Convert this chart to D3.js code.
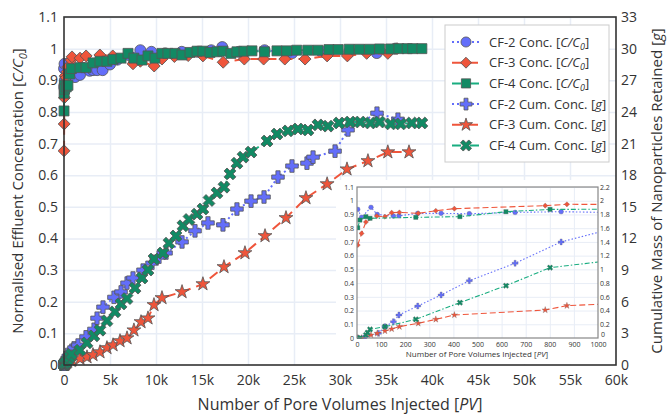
<!DOCTYPE html>
<html>
<head>
<meta charset="utf-8">
<script src="https://cdn.jsdelivr.net/npm/d3@7"></script>
<style>
  body { margin: 0; background: #fff; }
  text { font-family: "Open Sans", "DejaVu Sans", sans-serif; fill: #333; }
</style>
</head>
<body>
<div id="chart"></div>
<script>
// [pore volumes, C/C0]
const cf2Conc = [[3,0.937],[19,0.879],[58,0.952],[84,0.9],[151,0.888],[174,0.89],[252,0.908],[349,0.908],[466,0.905],[656,0.915],[847,0.92],
  [1200,0.91],[1740,0.917],[2800,0.93],[3150,0.932],[3600,0.932],[4200,0.932],[5000,0.95],[5800,0.965],[7000,0.98],[8300,0.995],[9500,0.99],[11000,0.985],[12800,0.99],[14500,0.99],[16000,0.995],[17200,1.005],[19000,0.99],[21800,0.995],[24800,0.986],[28000,0.99],[31000,0.99],[34000,0.986],[36000,1.0]];
const cf3Conc = [[3,0.677],[19,0.762],[37,0.845],[82,0.888],[116,0.884],[144,0.913],[176,0.915],[254,0.908],[327,0.927],[404,0.942],[781,0.964],[871,0.974],
  [1740,0.97],[2400,0.977],[3900,0.98],[5300,0.977],[7500,0.952],[8300,0.96],[9800,0.945],[10650,0.967],[12000,0.975],[13500,0.978],[15100,0.977],[17300,0.957],[19600,0.967],[21700,0.967],[24000,0.967],[26200,0.967],[28600,0.977],[30800,0.977],[32900,0.985],[35200,0.985],[36200,1.0]];
const cf4Conc = [[3,0.803],[12,0.859],[37,0.884],[54,0.872],[244,0.879],[427,0.884],[618,0.92],[801,0.937],
  [1740,0.94],[2390,0.94],[3150,0.955],[3910,0.96],[4670,0.96],[5330,0.966],[6200,0.97],[6960,0.985],[7600,0.97],[8480,0.964],[9130,0.977],[9890,0.97],[10650,0.985],[11300,0.985],[12070,0.985],[12830,0.98],[13700,0.988],[14460,0.992],[15100,0.992],[15870,0.988],[16630,0.99],[17280,0.992],[18150,0.985],[18800,0.99],[19570,0.992],[20430,0.993],[21800,0.99],[23150,0.993],[24200,0.993],[25300,0.995],[26500,0.995],[27600,0.995],[28800,0.997],[29800,0.997],[31000,0.998],[32100,0.998],[33200,0.998],[34300,0.999],[35500,0.999],[36400,1.0],[37300,1.0],[37900,1.0],[38900,1.0]];

// [pore volumes, grams retained]
const cf2Cum = [[3,0],[28,0],[89,0.068],[116,0.165],[151,0.238],[174,0.335],[252,0.466],[349,0.627],[466,0.835],[656,1.089],[847,1.4],
  [1090,1.62],[1520,1.89],[2390,2.67],[3260,3.39],[3590,4.44],[4240,5.49],[5430,6.42],[6200,6.93],[6850,7.77],[7500,8.25],[8590,9.0],[9570,9.66],[10330,10.23],[11090,10.62],[12830,11.67],[14240,12.72],[15650,13.47],[17280,13.29],[18800,14.79],[20330,15.54],[21740,15.93],[23260,17.82],[24780,18.87],[26410,19.14],[27070,19.71],[29460,20.28],[30870,22.29],[34020,23.88],[36300,23.31]];
const cf3Cum = [[3,0],[19,0],[58,0.044],[84,0.068],[116,0.102],[144,0.131],[176,0.165],[254,0.214],[327,0.272],[404,0.335],[781,0.408],[871,0.471],
  [1740,0.6],[2500,0.75],[3150,0.96],[3910,1.23],[4670,1.62],[5330,1.89],[6090,2.28],[6850,2.55],[7600,3.3],[8370,4.08],[9130,4.44],[9780,5.7],[10650,6.36],[12830,6.93],[15100,7.68],[17390,9.3],[19670,10.62],[21850,12.24],[24130,13.95],[26300,15.84],[28600,17.16],[30760,18.57],[33040,19.35],[35200,20.19],[37500,20.19]];
const cf4Cum = [[3,0],[12,0],[37,0.044],[44,0.078],[54,0.126],[116,0.165],[244,0.272],[427,0.515],[618,0.762],[801,1.025],
  [1740,1.41],[2500,2.1],[3260,2.76],[3910,3.3],[4670,4.2],[5540,5.04],[6200,5.79],[6850,6.3],[7720,7.29],[8480,8.25],[9130,9.0],[9780,10.05],[10760,10.62],[11410,11.55],[12170,12.24],[12930,13.2],[13590,13.8],[14460,14.31],[15100,14.79],[15760,15.6],[16630,16.32],[17390,16.86],[18040,18.12],[18800,19.14],[19460,19.71],[20330,20.19],[22070,21.24],[23150,21.9],[24350,22.2],[25430,22.38],[26520,22.29],[27600,22.77],[28700,22.65],[29900,22.95],[31100,23.04],[32200,23.04],[33300,22.95],[34300,23.04],[35500,22.86],[36600,22.86],[37800,22.95],[38900,22.95]];

const xTicks = d3.range(0, 60001, 5000);
const yLeftTicks = d3.range(0, 12).map(i => i / 10);
const yRightTicks = d3.range(0, 34, 3);
const insetXTicks = d3.range(0, 1001, 100);
const insetRightTicks = d3.range(0, 12).map(i => i / 5);

const series = [
  { name: 'CF-2 Conc. ', unit: 'C/C', sub: '0', data: cf2Conc, axis: 'L', color: '#636efa', fill: '#636efa', symbol: 'circle', dash: '2,3', idash: '1.5,2' },
  { name: 'CF-3 Conc. ', unit: 'C/C', sub: '0', data: cf3Conc, axis: 'L', color: '#ef553b', fill: '#ef553b', symbol: 'diamond', dash: '10,6', idash: '6,3' },
  { name: 'CF-4 Conc. ', unit: 'C/C', sub: '0', data: cf4Conc, axis: 'L', color: '#19ad80', fill: '#128a64', symbol: 'square', dash: '9,3,3,3', idash: '5,2,1.5,2' },
  { name: 'CF-2 Cum. Conc. ', unit: 'g', sub: '', data: cf2Cum, axis: 'R', color: '#636efa', fill: '#636efa', symbol: 'plus', dash: '2,3', idash: '1.5,2' },
  { name: 'CF-3 Cum. Conc. ', unit: 'g', sub: '', data: cf3Cum, axis: 'R', color: '#ef553b', fill: '#ef553b', symbol: 'star', dash: '10,6', idash: '6,3' },
  { name: 'CF-4 Cum. Conc. ', unit: 'g', sub: '', data: cf4Cum, axis: 'R', color: '#19ad80', fill: '#128a64', symbol: 'x', dash: '9,3,3,3', idash: '5,2,1.5,2' }
];

const symbolTypes = {
  circle: [d3.symbolCircle, 0, 1],
  diamond: [d3.symbolSquare, 45, 0.75],
  square: [d3.symbolSquare, 0, 1.05],
  plus: [d3.symbolCross, 0, 1.1],
  star: [d3.symbolStar, 0, 0.75],
  x: [d3.symbolCross, 45, 1.1]
};

function markerPath(sym, size) {
  const t = symbolTypes[sym];
  return d3.symbol().type(t[0]).size(size * t[2])();
}

function renderChart(containerId) {
  const W = 667, H = 416;
  const svg = d3.select(`#${containerId}`).append('svg')
    .attr('width', W).attr('height', H);

  const x = d3.scaleLinear().domain([0, 60000]).range([64, 616]);
  const yL = d3.scaleLinear().domain([0, 1.1]).range([365, 17]);
  const yR = d3.scaleLinear().domain([0, 33]).range([365, 17]);

  svg.append('clipPath').attr('id', 'clipMain')
    .append('rect').attr('x', 58).attr('y', 11).attr('width', 564).attr('height', 360);

  // grid
  const grid = svg.append('g').attr('class', 'grid');
  grid.append('g').attr('transform', 'translate(0,365)')
    .call(d3.axisBottom(x).tickValues(xTicks.slice(1, -1)).tickSize(-348).tickFormat(''));
  grid.append('g').attr('transform', 'translate(64,0)')
    .call(d3.axisLeft(yL).tickValues(yLeftTicks.slice(1)).tickSize(-552).tickFormat(''));
  grid.selectAll('.domain').remove();
  grid.selectAll('line').attr('stroke', '#e8edf6').attr('stroke-width', 1.5);

  // axis labels
  const xAx = svg.append('g').attr('transform', 'translate(0,365)')
    .call(d3.axisBottom(x).tickValues(xTicks).tickSize(0).tickPadding(10)
      .tickFormat(d => d === 0 ? '0' : (d / 1000) + 'k'));
  const yAx = svg.append('g').attr('transform', 'translate(64,0)')
    .call(d3.axisLeft(yL).tickValues(yLeftTicks).tickSize(0).tickPadding(6)
      .tickFormat(d => d3.format('~g')(+d.toFixed(1))));
  const yAxR = svg.append('g').attr('transform', 'translate(616,0)')
    .call(d3.axisRight(yR).tickValues(yRightTicks).tickSize(0).tickPadding(5));
  [xAx, yAx, yAxR].forEach(a => {
    a.select('.domain').remove();
    a.selectAll('text').style('font-size', '14px').attr('fill', '#333')
      .style('font-family', '"Open Sans", sans-serif');
  });

  // data
  const plot = svg.append('g').attr('clip-path', 'url(#clipMain)');
  series.forEach(s => {
    const yS = s.axis === 'L' ? yL : yR;
    const line = d3.line().x(d => x(d[0])).y(d => yS(d[1]));
    plot.append('path').datum(s.data)
      .attr('d', line).attr('fill', 'none')
      .attr('stroke', s.color).attr('stroke-width', 2)
      .attr('stroke-dasharray', s.dash);
    const big = s.axis === 'L' ? 95 : 80;
    plot.selectAll(null).data(s.data).enter().append('path')
      .attr('d', markerPath(s.symbol, big))
      .attr('transform', d => `translate(${x(d[0])},${yS(d[1])}) rotate(${symbolTypes[s.symbol][1]})`)
      .attr('fill', s.fill).attr('stroke', '#555').attr('stroke-width', 0.8);
  });

  // frame
  svg.append('rect').attr('x', 64).attr('y', 17).attr('width', 552).attr('height', 348)
    .attr('fill', 'none').attr('stroke', '#333').attr('stroke-width', 1.6);

  // axis titles
  const lt = svg.append('text')
    .attr('transform', 'translate(23,191) rotate(-90)')
    .attr('text-anchor', 'middle').style('font-size', '15px');
  lt.append('tspan').text('Normalised Effluent Concentration [');
  lt.append('tspan').style('font-style', 'italic').text('C/C');
  lt.append('tspan').style('font-style', 'italic').style('font-size', '11px').attr('dy', 4).text('0');
  lt.append('tspan').attr('dy', -4).text(']');

  const rt = svg.append('text')
    .attr('transform', 'translate(662,191) rotate(-90)')
    .attr('text-anchor', 'middle').style('font-size', '15px');
  rt.append('tspan').text('Cumulative Mass of Nanoparticles Retained [');
  rt.append('tspan').style('font-style', 'italic').text('g');
  rt.append('tspan').text(']');

  const bt = svg.append('text').attr('x', 340).attr('y', 410)
    .attr('text-anchor', 'middle').style('font-size', '16px');
  bt.append('tspan').text('Number of Pore Volumes Injected [');
  bt.append('tspan').style('font-style', 'italic').text('PV');
  bt.append('tspan').text(']');

  renderInset(svg);
  renderLegend(svg);
}

function renderInset(svg) {
  const xi = d3.scaleLinear().domain([0, 1000]).range([357, 598]);
  const yiL = d3.scaleLinear().domain([0, 1.1]).range([338, 187]);
  const yiR = d3.scaleLinear().domain([0, 2.2]).range([338, 187]);
  const g = svg.append('g');

  g.append('rect').attr('x', 336).attr('y', 180).attr('width', 279).attr('height', 184)
    .attr('fill', '#fff');
  g.append('clipPath').attr('id', 'clipInset')
    .append('rect').attr('x', 357).attr('y', 183).attr('width', 241).attr('height', 156);

  const grid = g.append('g');
  grid.append('g').attr('transform', 'translate(0,338)')
    .call(d3.axisBottom(xi).tickValues(insetXTicks.slice(1, -1)).tickSize(-151).tickFormat(''));
  grid.append('g').attr('transform', 'translate(357,0)')
    .call(d3.axisLeft(yiL).tickValues(yLeftTicks.slice(1)).tickSize(-241).tickFormat(''));
  grid.selectAll('.domain').remove();
  grid.selectAll('line').attr('stroke', '#e8edf6').attr('stroke-width', 1);

  const ax = g.append('g').attr('transform', 'translate(0,338)')
    .call(d3.axisBottom(xi).tickValues(insetXTicks).tickSize(0).tickPadding(4)
      .tickFormat(d3.format('d')));
  const ayL = g.append('g').attr('transform', 'translate(357,0)')
    .call(d3.axisLeft(yiL).tickValues(yLeftTicks).tickSize(0).tickPadding(3)
      .tickFormat(d => d3.format('~g')(+d.toFixed(1))));
  const ayR = g.append('g').attr('transform', 'translate(598,0)')
    .call(d3.axisRight(yiR).tickValues(insetRightTicks.slice(1)).tickSize(0).tickPadding(2)
      .tickFormat(d => d3.format('~g')(+d.toFixed(1))));
  // right-axis zero sits just above the "1000" label
  g.append('text').attr('x', 601).attr('y', 337).style('font-size', '7px').attr('fill', '#444').text('0');
  [ax, ayL, ayR].forEach(a => {
    a.select('.domain').remove();
    a.selectAll('text').style('font-size', '7px').attr('fill', '#444')
      .style('font-family', '"Open Sans", sans-serif');
  });

  const plot = g.append('g').attr('clip-path', 'url(#clipInset)');
  series.forEach(s => {
    const yS = s.axis === 'L' ? yiL : yiR;
    const line = d3.line().x(d => xi(d[0])).y(d => yS(d[1]));
    plot.append('path').datum(s.data)
      .attr('d', line).attr('fill', 'none')
      .attr('stroke', s.color).attr('stroke-width', 1.1)
      .attr('stroke-dasharray', s.idash);
    plot.selectAll(null).data(s.data.filter(d => d[0] <= 1000)).enter().append('path')
      .attr('d', markerPath(s.symbol, 18))
      .attr('transform', d => `translate(${xi(d[0])},${yS(d[1])}) rotate(${symbolTypes[s.symbol][1]})`)
      .attr('fill', s.fill).attr('stroke', '#666').attr('stroke-width', 0.3);
  });

  g.append('rect').attr('x', 357).attr('y', 187).attr('width', 241).attr('height', 151)
    .attr('fill', 'none').attr('stroke', '#888').attr('stroke-width', 1.2);

  const t = g.append('text').attr('x', 477).attr('y', 357)
    .attr('text-anchor', 'middle').style('font-size', '8px').attr('fill', '#444');
  t.append('tspan').text('Number of Pore Volumes Injected [');
  t.append('tspan').style('font-style', 'italic').text('PV');
  t.append('tspan').text(']');
}

function renderLegend(svg) {
  const lg = svg.append('g');
  lg.append('rect').attr('x', 445).attr('y', 25).attr('width', 164).attr('height', 137)
    .attr('fill', '#fff').attr('stroke', '#ccc').attr('stroke-width', 1);
  series.forEach((s, i) => {
    const yy = 42 + i * 20.7;
    lg.append('line').attr('x1', 452).attr('x2', 481).attr('y1', yy).attr('y2', yy)
      .attr('stroke', s.color).attr('stroke-width', 2).attr('stroke-dasharray', s.dash);
    lg.append('path').attr('d', markerPath(s.symbol, s.axis === 'L' ? 80 : 70))
      .attr('transform', `translate(466,${yy}) rotate(${symbolTypes[s.symbol][1]})`)
      .attr('fill', s.fill).attr('stroke', '#555').attr('stroke-width', 0.8);
    const t = lg.append('text').attr('x', 489).attr('y', yy + 4.5).style('font-size', '13px');
    t.append('tspan').text(s.name + '[');
    t.append('tspan').style('font-style', 'italic').text(s.unit);
    if (s.sub) t.append('tspan').style('font-style', 'italic').style('font-size', '9px').attr('dy', 3).text(s.sub);
    t.append('tspan').attr('dy', s.sub ? -3 : 0).text(']');
  });
}

renderChart('chart');
</script>
</body>
</html>
